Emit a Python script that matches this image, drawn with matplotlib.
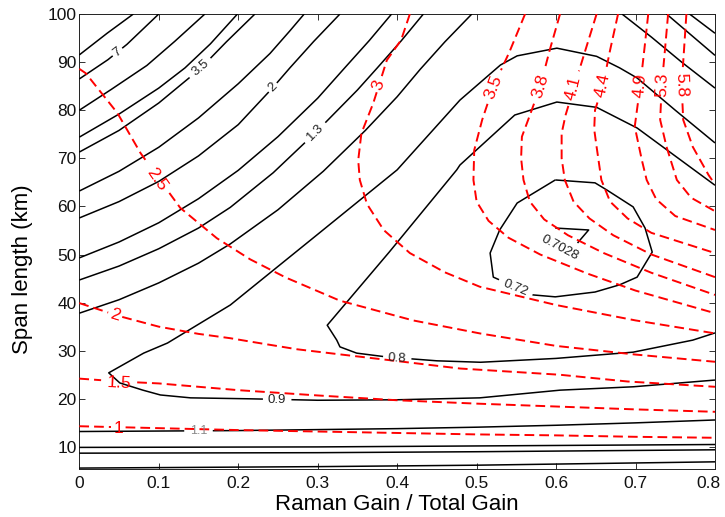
import numpy as np
import matplotlib
matplotlib.use('Agg')
import matplotlib.pyplot as plt
import matplotlib.transforms as mtransforms

plt.rcParams['font.family'] = ['Liberation Sans', 'DejaVu Sans']

# ---- black contours (x = Raman gain / total gain, y = span length km) ----
blk_a = [(0, 91.5), (0.035, 96.0), (0.068, 100)]
blk_7 = [(0, 86.5), (0.036, 90.5), (0.06, 93.7), (0.10, 100)]
blk_c = [(0, 80.0), (0.04, 84.3), (0.085, 89.3), (0.12, 94.3), (0.158, 100)]
blk_d = [(0, 74.4), (0.05, 79.2), (0.10, 84.6), (0.133, 88.8), (0.165, 93.8), (0.199, 100)]
blk_35 = [(0, 71.3), (0.05, 75.8), (0.10, 81.5), (0.152, 88.6), (0.185, 94.2), (0.221, 100)]
blk_f = [(0, 63.2), (0.05, 67.3), (0.10, 72.3), (0.15, 78.4), (0.20, 85.5), (0.24, 91.8),
         (0.265, 96.5), (0.283, 100)]
blk_2 = [(0, 57.6), (0.05, 61.0), (0.10, 65.2), (0.15, 70.5), (0.20, 77.0), (0.243, 84.6),
         (0.265, 88.8), (0.295, 94.3), (0.328, 100)]
blk_h = [(0, 49.3), (0.05, 52.6), (0.10, 56.6), (0.15, 61.6), (0.20, 67.5), (0.25, 74.5),
         (0.30, 82.5), (0.334, 88.8), (0.365, 94.5), (0.393, 100)]
blk_13 = [(0, 44.7), (0.05, 47.6), (0.10, 51.2), (0.15, 55.5), (0.19, 59.8), (0.244, 67.0),
          (0.297, 75.3), (0.35, 84.2), (0.375, 88.8), (0.405, 94.4), (0.433, 100)]
blk_11_up = [(0, 37.8), (0.05, 40.6), (0.10, 44.1), (0.15, 48.2), (0.19, 52.2), (0.25, 59.3),
             (0.307, 67.3), (0.36, 75.8), (0.40, 82.8), (0.429, 88.5), (0.46, 94.2), (0.494, 100)]
blk_09 = [(0.8, 23.9), (0.697, 22.5), (0.605, 21.8), (0.504, 20.2), (0.40, 19.8), (0.30, 19.7),
          (0.215, 20.0), (0.14, 20.2), (0.102, 20.8), (0.08, 21.8), (0.051, 23.3), (0.037, 25.4),
          (0.081, 29.5), (0.111, 31.6), (0.19, 39.5), (0.30, 54.2), (0.40, 67.6), (0.479, 82.1),
          (0.53, 89.4), (0.551, 91.3), (0.601, 92.9), (0.651, 91.2), (0.68, 88.8), (0.702, 86.7),
          (0.75, 80.0), (0.8, 73.2)]
blk_08 = [(0.8, 64.4), (0.702, 76.3), (0.651, 80.6), (0.601, 81.7), (0.548, 79.0), (0.479, 68.6),
          (0.475, 67.6), (0.39, 50.5), (0.312, 35.3), (0.324, 32.2), (0.328, 30.8), (0.349, 29.5),
          (0.387, 28.7), (0.45, 27.9), (0.505, 27.6), (0.60, 28.4), (0.697, 29.7), (0.772, 32.2),
          (0.8, 33.7)]
blk_072 = [(0.599, 65.5), (0.649, 64.9), (0.664, 63.4), (0.697, 59.9), (0.712, 55.5), (0.721, 50.5),
           (0.702, 45.3), (0.68, 43.7), (0.649, 42.2), (0.599, 41.2), (0.571, 41.6), (0.521, 45.3),
           (0.517, 50.3), (0.529, 55.1), (0.551, 60.7), (0.599, 65.5)]
blk_07028 = [(0.599, 55.5), (0.641, 55.1), (0.627, 52.4)]
blk_r1 = [(0.683, 100), (0.72, 95.2), (0.758, 90.0), (0.8, 84.6)]
blk_r2 = [(0.739, 100), (0.8, 91.4)]
blk_r3 = [(0.768, 100), (0.8, 96.0)]
blk_11_low = [(0, 13.2), (0.1, 13.3), (0.2, 13.4), (0.3, 13.6), (0.4, 13.8), (0.5, 14.1),
              (0.6, 14.5), (0.7, 15.0), (0.8, 15.6)]
blk_b2 = [(0, 9.9), (0.3, 10.0), (0.5, 10.2), (0.8, 10.5)]
blk_b3 = [(0, 8.7), (0.3, 8.8), (0.5, 9.0), (0.8, 9.4)]
blk_b4 = [(0, 5.6), (0.3, 5.9), (0.5, 6.2), (0.8, 6.9)]

# ---- red dashed contours ----
red_1 = [(0, 14.3), (0.05, 14.1), (0.1, 13.9), (0.2, 13.5), (0.3, 13.2), (0.4, 12.9),
         (0.5, 12.6), (0.6, 12.4), (0.7, 12.1), (0.8, 11.9)]
red_15 = [(0, 24.2), (0.05, 23.6), (0.1, 23.2), (0.2, 21.8), (0.3, 20.7), (0.4, 19.7),
          (0.5, 19.0), (0.6, 18.4), (0.7, 17.8), (0.8, 17.3)]
red_2 = [(0, 39.9), (0.05, 37.2), (0.1, 35.0), (0.15, 33.5), (0.19, 32.6), (0.215, 31.9),
         (0.274, 30.3), (0.33, 29.2), (0.387, 28.1), (0.479, 26.3), (0.605, 25.0), (0.69, 23.6),
         (0.8, 22.5)]
red_25 = [(0, 88.6), (0.008, 87.7), (0.048, 79.4), (0.077, 71.1), (0.093, 67.4), (0.127, 59.7),
          (0.173, 53.4), (0.215, 49.0), (0.26, 45.2), (0.328, 40.4), (0.42, 36.3), (0.504, 33.6),
          (0.6, 31.0), (0.7, 29.2), (0.8, 27.7)]
red_3 = [(0.416, 100), (0.405, 94.6), (0.387, 90.4), (0.37, 81.5), (0.355, 75.2), (0.351, 69.6),
         (0.353, 65.5), (0.362, 60.5), (0.383, 55.1), (0.416, 50.3), (0.46, 46.3), (0.504, 43.3),
         (0.6, 39.5), (0.7, 36.3), (0.8, 33.6)]
red_35 = [(0.561, 100), (0.541, 92.0), (0.521, 84.9), (0.507, 78.0), (0.497, 71.7), (0.496, 65.5),
          (0.50, 61.0), (0.515, 57.0), (0.54, 53.5), (0.58, 50.0), (0.64, 46.0), (0.7, 42.5),
          (0.8, 37.8)]
red_38 = [(0.605, 100), (0.592, 92.5), (0.58, 84.9), (0.566, 78.5), (0.557, 74.5), (0.556, 70.0),
          (0.559, 65.5), (0.567, 61.0), (0.585, 57.3), (0.615, 54.0), (0.66, 50.3), (0.72, 46.2),
          (0.8, 41.6)]
red_41 = [(0.651, 100), (0.636, 92.0), (0.622, 84.5), (0.612, 79.0), (0.607, 75.2), (0.607, 70.0),
          (0.611, 65.5), (0.622, 61.0), (0.642, 57.5), (0.672, 54.0), (0.72, 50.0), (0.8, 45.3)]
red_44 = [(0.678, 100), (0.668, 92.5), (0.659, 85.2), (0.649, 80.0), (0.648, 76.0), (0.651, 72.4),
          (0.657, 65.5), (0.668, 61.0), (0.69, 57.5), (0.72, 54.5), (0.8, 50.3)]
red_49 = [(0.716, 100), (0.711, 92.5), (0.706, 85.2), (0.699, 76.6), (0.708, 69.6), (0.714, 65.5),
          (0.726, 61.5), (0.75, 58.0), (0.8, 55.1)]
red_53 = [(0.741, 100), (0.737, 92.5), (0.733, 85.2), (0.731, 78.0), (0.739, 72.4), (0.752, 65.5),
          (0.77, 61.8), (0.8, 59.0)]
red_58 = [(0.764, 100), (0.761, 92.5), (0.758, 85.2), (0.76, 78.0), (0.772, 72.4), (0.792, 66.5),
          (0.8, 64.6)]

# ---- inline labels: (text, x, y, rotation, line it sits on) ----
black_labels = [
    ('7', 0.048, 92.1, 38, blk_7),
    ('3.5', 0.152, 88.8, 40, blk_35),
    ('2', 0.243, 84.8, 45, blk_2),
    ('1.3', 0.297, 75.3, 45, blk_13),
    ('0.9', 0.249, 19.8, 0, blk_09),
    ('0.8', 0.40, 28.3, -3, blk_08),
    ('0.72', 0.549, 43.1, -22, blk_072),
    ('0.7028', 0.605, 51.4, -28, None),
]
grey_labels = [('1.1', 0.15, 13.3, 0, blk_11_low)]
red_labels = [
    ('1', 0.049, 13.9, 0, red_1),
    ('1.5', 0.05, 23.3, -3, red_15),
    ('2', 0.045, 37.4, -17, red_2),
    ('2.5', 0.098, 65.6, -55, red_25),
    ('3', 0.377, 85.2, 72, red_3),
    ('3.5', 0.521, 84.9, 69, red_35),
    ('3.8', 0.58, 84.9, 73, red_38),
    ('4.1', 0.622, 84.5, 76, red_41),
    ('4.4', 0.659, 85.2, 78, red_44),
    ('4.9', 0.706, 85.2, 85, red_49),
    ('5.3', 0.733, 85.2, 88, red_53),
    ('5.8', 0.758, 85.2, -88, red_58),
]

xticks = [0, 0.1, 0.2, 0.3, 0.4, 0.5, 0.6, 0.7, 0.8]
xticklabels = ['0', '0.1', '0.2', '0.3', '0.4', '0.5', '0.6', '0.7', '0.8']
yticks = [10, 20, 30, 40, 50, 60, 70, 80, 90, 100]

fig = plt.figure(figsize=(7.25, 5.17), dpi=100)
ax = fig.add_axes([0.1094, 0.0923, 0.8768, 0.8806])
ax.set_xlim(0, 0.8)
ax.set_ylim(5.35, 100)


def cut_circle(P, c, r):
    # split a pixel-space polyline where it passes through a circle (label gap)
    pieces, cur = [], []
    inside = lambda p: np.hypot(*(p - c)) < r
    if not inside(P[0]):
        cur.append(P[0])
    for a, b in zip(P[:-1], P[1:]):
        d = b - a
        f = a - c
        A = d @ d
        B = 2 * f @ d
        C = f @ f - r * r
        disc = B * B - 4 * A * C
        if A > 0 and disc > 0:
            s = np.sqrt(disc)
            t1 = (-B - s) / (2 * A)
            t2 = (-B + s) / (2 * A)
            if 0 < t1 < 1:
                cur.append(a + t1 * d)
                pieces.append(cur)
                cur = []
            if 0 < t2 < 1:
                cur = [a + t2 * d]
        if not inside(b):
            cur.append(b)
    if len(cur) > 1:
        pieces.append(cur)
    return [np.array(p) for p in pieces if len(p) > 1]


def draw(line, gaps, **kw):
    pieces = [ax.transData.transform(np.asarray(line, float))]
    for (cx, cy), r in gaps:
        c = ax.transData.transform((cx, cy))
        new = []
        for p in pieces:
            new += cut_circle(p, c, r)
        pieces = new
    inv = ax.transData.inverted()
    for p in pieces:
        q = inv.transform(p)
        ax.plot(q[:, 0], q[:, 1], solid_capstyle='butt', dash_capstyle='butt', **kw)


def gap_radius(text, fs):
    return 0.5 * len(text) * fs * 0.62 * 100 / 72 + 2


black_lines = [blk_a, blk_7, blk_c, blk_d, blk_35, blk_f, blk_2, blk_h, blk_13, blk_11_up,
               blk_09, blk_08, blk_072, blk_07028, blk_r1, blk_r2, blk_r3,
               blk_11_low, blk_b2, blk_b3, blk_b4]
red_lines = [red_1, red_15, red_2, red_25, red_3, red_35, red_38, red_41, red_44, red_49,
             red_53, red_58]

for ln in black_lines:
    gaps = [((x, y), gap_radius(t, 9.5)) for t, x, y, r, l in black_labels + grey_labels if l is ln]
    draw(ln, gaps, color='black', lw=1.1, zorder=3)

for ln in red_lines:
    gaps = [((x, y), gap_radius(t, 12.5)) for t, x, y, r, l in red_labels if l is ln]
    draw(ln, gaps, color='#ff0000', lw=1.4, ls=(0, (5, 2.6)), zorder=4)

for t, x, y, rot, l in black_labels:
    ax.text(x, y, t, fontsize=9.5, color='#222222', rotation=rot, ha='center', va='center',
            rotation_mode='anchor', zorder=6)
for t, x, y, rot, l in grey_labels:
    ax.text(x, y, t, fontsize=9, color='#8a8a8a', rotation=rot, ha='center', va='center',
            rotation_mode='anchor', zorder=6)
for t, x, y, rot, l in red_labels:
    ax.text(x, y, t, fontsize=12.5, color='#ff0000', rotation=rot, ha='center', va='center',
            rotation_mode='anchor', zorder=6)

ax.set_xticks(xticks)
ax.set_xticklabels(xticklabels)
ax.set_yticks(yticks)
ax.tick_params(direction='in', length=4.5, width=0.6, top=True, right=True, labelsize=12.5,
               colors='#111111')
ax.tick_params(axis='x', pad=5)
ax.tick_params(axis='y', pad=2)
for s in ax.spines.values():
    s.set_linewidth(0.7)
    s.set_color('#222222')

# last x tick label sits against the figure edge; nudge it inside
last = ax.get_xticklabels()[-1]
last.set_transform(last.get_transform() +
                   mtransforms.ScaledTranslation(-5 / 72, 0, fig.dpi_scale_trans))

ax.set_xlabel('Raman Gain / Total Gain', fontsize=16)
ax.set_ylabel('Span length (km)', fontsize=16)
ax.xaxis.set_label_coords(0.5, -0.054)
ax.yaxis.set_label_coords(-0.073, 0.44)

fig.savefig('out.png', dpi=100)
